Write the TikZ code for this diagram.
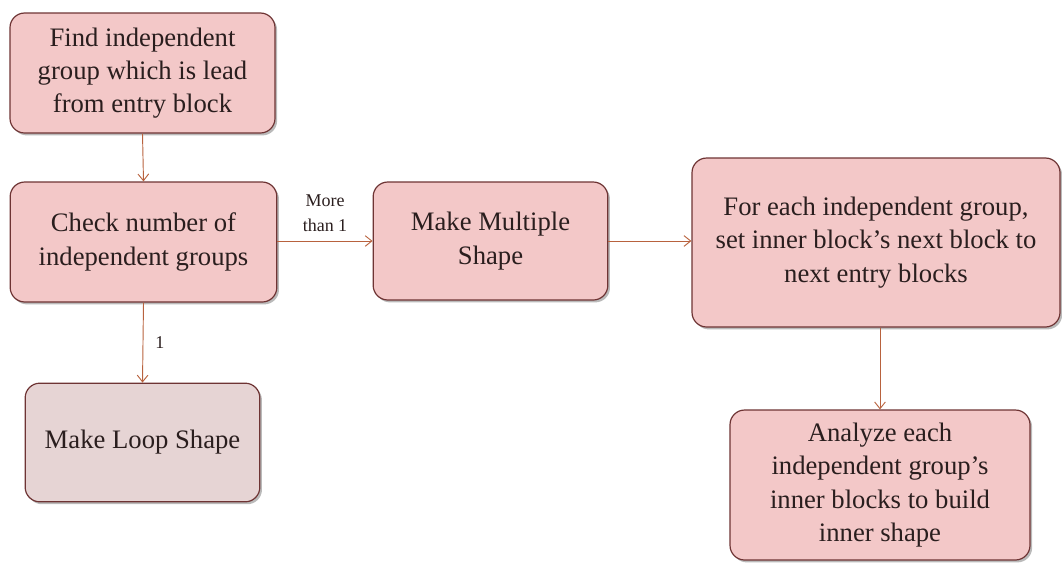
\documentclass[tikz,border=0pt]{standalone}
\usepackage{fontspec}
\setmainfont{Liberation Serif}
\usetikzlibrary{shadows,arrows.meta}
\definecolor{boxfill}{HTML}{F3C8C8}
\definecolor{loopfill}{HTML}{E6D4D4}
\definecolor{boxline}{HTML}{6E3434}
\definecolor{flow}{HTML}{B8623E}
\definecolor{ink}{HTML}{2A1E1E}
\tikzset{
  stage/.style={draw=boxline, line width=0.9pt, fill=boxfill, rounded corners=11pt,
    align=center, text=ink, font=\fontsize{20}{25}\selectfont, inner sep=2pt,
    drop shadow={shadow xshift=1.6pt, shadow yshift=-1.8pt, opacity=0.45, fill=black!60}},
  flowarrow/.style={draw=flow, line width=0.7pt, -{Straight Barb[length=5pt,width=8pt]}},
  tag/.style={text=ink, font=\fontsize{13.5}{18.5}\selectfont, align=center, inner sep=1pt}
}
\begin{document}
\begin{tikzpicture}[x=0.75pt, y=-0.75pt]
  \useasboundingbox (0,0) rectangle (1062,562);
  \node[stage, minimum width=198.75pt, minimum height=90pt] (find) at (142.5,73)
    {Find independent\\group which is lead\\from entry block};
  \node[stage, minimum width=200pt, minimum height=90pt] (check) at (143.5,242)
    {Check number of\\independent groups};
  \node[stage, fill=loopfill, minimum width=176pt, minimum height=89pt] (loop) at (142.5,442.5)
    {Make Loop Shape};
  \node[stage, minimum width=176pt, minimum height=88.5pt] (multi) at (490.5,241)
    {Make Multiple\\Shape};
  \node[stage, minimum width=276pt, minimum height=126.75pt] (each) at (876,242.5)
    {For each independent group,\\set inner block's next block to\\next entry blocks};
  \node[stage, minimum width=225pt, minimum height=112.5pt] (analyze) at (880,485)
    {Analyze each\\independent group's\\inner blocks to build\\inner shape};

  \draw[flowarrow] (find.south) -- (check.north);
  \draw[flowarrow] (check.south) -- node[tag, right=8pt, pos=0.5] (one) {1} (loop.north);
  \draw[flowarrow] (check.east |- multi.west) -- node[tag, above=6pt, pos=0.5] (more) {More\\than 1} (multi.west);
  \draw[flowarrow] (multi.east) -- (multi.east -| each.west);
  \draw[flowarrow] (analyze.north |- each.south) -- (analyze.north);
\end{tikzpicture}
\end{document}
